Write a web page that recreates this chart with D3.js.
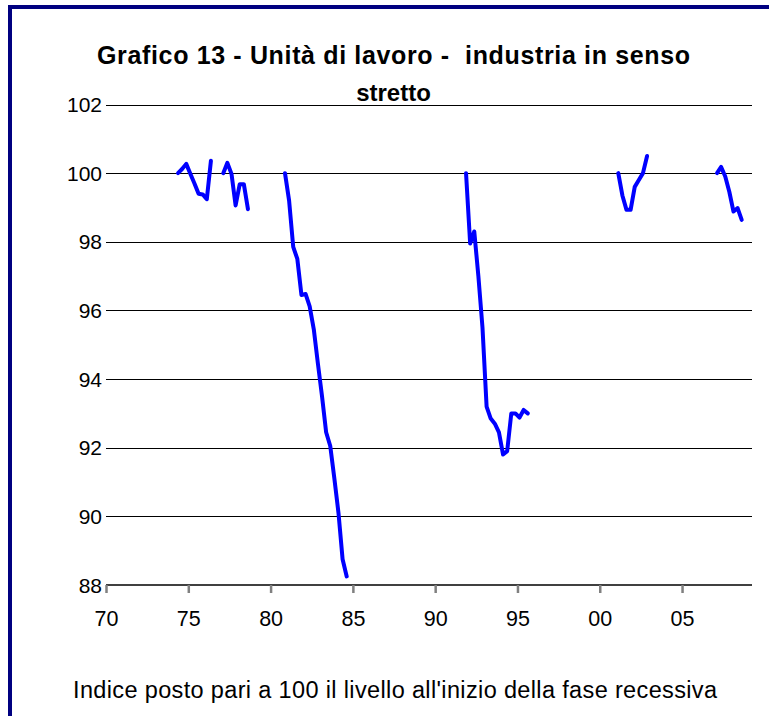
<!DOCTYPE html>
<html>
<head>
<meta charset="utf-8">
<title>Grafico 13</title>
<script src="https://d3js.org/d3.v7.min.js"></script>
<style>
  body { margin: 0; background: #fff; font-family: "Liberation Sans", Arial, sans-serif; }
  svg text { font-family: "Liberation Sans", Arial, sans-serif; }
</style>
</head>
<body>
<div id="chart"></div>
<script>
// axis labels
var yTicks = [88, 90, 92, 94, 96, 98, 100, 102];
var xTickLabels = ["70", "75", "80", "85", "90", "95", "00", "05"];
var nQuarters = 157; // 1970Q1 .. 2009Q1

// recession episodes: first quarter and quarterly index values (start = 100)
var episodeStarts = ["1974Q2", "1977Q1", "1980Q4", "1991Q4", "2001Q1", "2007Q1"];
var ep1974 = [100, 100.12, 100.27, 99.98, 99.7, 99.4, 99.38, 99.24, 100.36];
var ep1977 = [100, 100.3, 99.98, 99.06, 99.68, 99.68, 98.95];
var ep1980 = [100, 99.2, 97.85, 97.5, 96.45, 96.48, 96.12, 95.45, 94.45, 93.5, 92.45, 92.05, 91.1, 90.1, 88.75, 88.25];
var ep1991 = [100, 97.95, 98.3, 97.0, 95.5, 93.2, 92.85, 92.7, 92.45, 91.8, 91.9, 93.0, 93.0, 92.88, 93.1, 93.0];
var ep2001 = [100, 99.35, 98.93, 98.93, 99.6, 99.8, 100.0, 100.5];
var ep2007 = [100, 100.18, 99.9, 99.45, 98.88, 98.98, 98.64];
var episodes = [ep1974, ep1977, ep1980, ep1991, ep2001, ep2007];

function quarterIndex(s) {
  return (+s.slice(0, 4) - 1970) * 4 + (+s.slice(5) - 1);
}

var width = 769, height = 716;
var plot = {left: 106, right: 752, top: 104.5, bottom: 585};

var svg = d3.select("#chart").append("svg")
    .attr("width", width)
    .attr("height", height);

// outer frame
svg.append("rect")
    .attr("x", 10).attr("y", 7)
    .attr("width", 800).attr("height", 800)
    .attr("fill", "none")
    .attr("stroke", "#000080")
    .attr("stroke-width", 4);

var x = d3.scaleLinear().domain([0, nQuarters]).range([plot.left, plot.right]);
var y = d3.scaleLinear().domain([88, 102]).range([plot.bottom, plot.top]);

// title
svg.append("text")
    .attr("x", 393.5).attr("y", 64)
    .attr("text-anchor", "middle")
    .attr("font-size", 25)
    .attr("font-weight", "bold")
    .attr("xml:space", "preserve")
    .attr("textLength", 593)
    .attr("lengthAdjust", "spacing")
    .text("Grafico 13 - Unità di lavoro -  industria in senso");
svg.append("text")
    .attr("x", 393.5).attr("y", 101)
    .attr("text-anchor", "middle")
    .attr("font-size", 24)
    .attr("font-weight", "bold")
    .text("stretto");

// gridlines
svg.append("g").selectAll("line")
    .data(yTicks.filter(function(d) { return d > 88; }))
    .enter().append("line")
    .attr("x1", plot.left).attr("x2", plot.right)
    .attr("y1", function(d) { return Math.round(y(d)) + 0.5; })
    .attr("y2", function(d) { return Math.round(y(d)) + 0.5; })
    .attr("stroke", "#000")
    .attr("stroke-width", 1);

// y labels
svg.append("g").selectAll("text")
    .data(yTicks)
    .enter().append("text")
    .attr("x", 102)
    .attr("y", function(d) { return y(d); })
    .attr("dy", "0.36em")
    .attr("text-anchor", "end")
    .attr("font-size", 21)
    .text(function(d) { return d; });

// x axis
var xTickPos = xTickLabels.map(function(d, i) { return i * 20; });
var xAxis = d3.axisBottom(x)
    .tickValues(xTickPos)
    .tickSize(8)
    .tickPadding(18)
    .tickFormat(function(d, i) { return xTickLabels[i]; });

var gx = svg.append("g")
    .attr("transform", "translate(0," + Math.round(plot.bottom) + ")")
    .call(xAxis);
gx.select(".domain").attr("stroke", "#000").attr("stroke-width", 1.5)
    .attr("d", "M" + plot.left + ",0H" + plot.right);
gx.selectAll(".tick line").attr("stroke", "#808080").attr("stroke-width", 2.5);
gx.selectAll(".tick text").attr("font-size", 21.5).attr("fill", "#000")
    .attr("font-family", "Liberation Sans, Arial, sans-serif");

// lines
var line = d3.line()
    .x(function(d) { return x(d.q + 0.5); })
    .y(function(d) { return y(d.v); });

svg.append("g").selectAll("path")
    .data(episodes.map(function(vals, i) {
      var q0 = quarterIndex(episodeStarts[i]);
      return vals.map(function(v, k) { return {q: q0 + k, v: v}; });
    }))
    .enter().append("path")
    .attr("d", line)
    .attr("fill", "none")
    .attr("stroke", "#0000ff")
    .attr("stroke-width", 4)
    .attr("stroke-linejoin", "round")
    .attr("stroke-linecap", "round");

// footer
svg.append("text")
    .attr("x", 395).attr("y", 698)
    .attr("text-anchor", "middle")
    .attr("font-size", 23.5)
    .attr("textLength", 644)
    .attr("lengthAdjust", "spacing")
    .text("Indice posto pari a 100 il livello all'inizio della fase recessiva");
</script>
</body>
</html>
